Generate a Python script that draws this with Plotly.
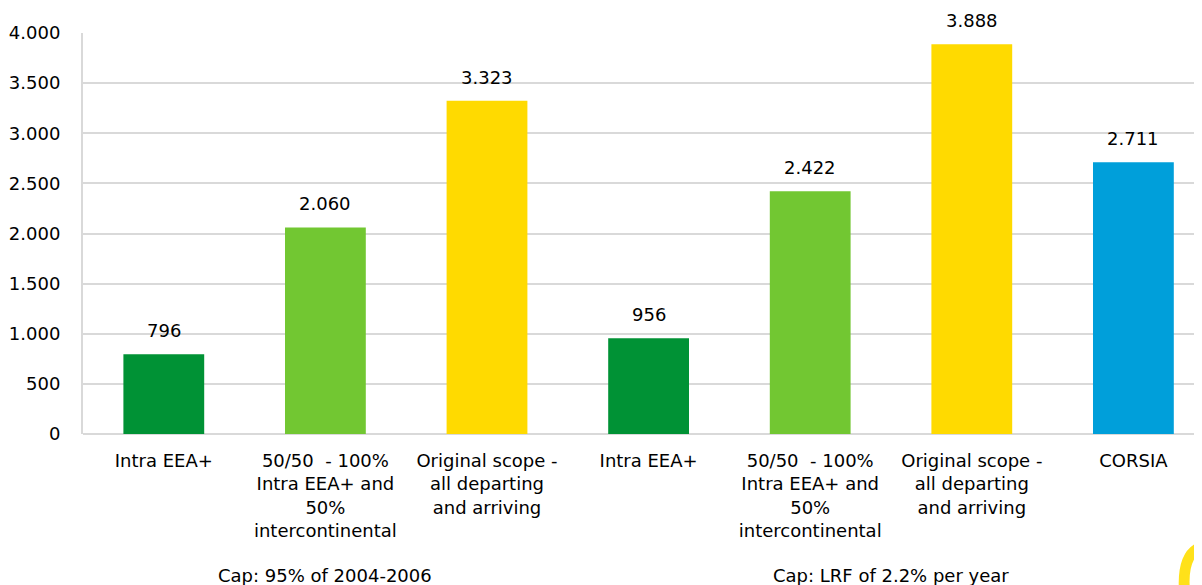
import plotly.graph_objects as go

labels = ["Intra EEA+",
          "50/50  - 100%<br>Intra EEA+ and<br>50%<br>intercontinental",
          "Original scope -<br>all departing<br>and arriving",
          "Intra EEA+",
          "50/50  - 100%<br>Intra EEA+ and<br>50%<br>intercontinental",
          "Original scope -<br>all departing<br>and arriving",
          "CORSIA"]
values = [796, 2060, 3323, 956, 2422, 3888, 2711]
colors = ["#009235", "#72c732", "#ffda00", "#009235", "#72c732", "#ffda00", "#009fda"]
groups = ["Cap: 95% of 2004-2006", "Cap: LRF of 2.2% per year"]
group_pos = [1, 4.5]

xs = list(range(len(values)))
font = "DejaVu Sans"

L, T, B, W, H = 75, 25, 159, 1202, 585
pw, ph = W - L, H - T - B


def px(sx, sy):
    # screen pixel -> paper coords (page has an 8px body margin)
    fx, fy = sx - 8, sy - 8
    return (fx - L) / pw, (H - B - fy) / ph


fig = go.Figure()
fig.add_trace(go.Bar(x=xs, y=values, marker_color=colors, width=0.5,
                     marker_line_width=0, hoverinfo="skip"))

# value labels above the bars
for x, v in zip(xs, values):
    fig.add_annotation(x=x, y=v, text=f"{v:,}".replace(",", "."),
                       showarrow=False, yanchor="bottom", yshift=11,
                       font=dict(family=font, size=18, color="#000000"))

for g, p in zip(groups, group_pos):
    fig.add_annotation(x=p, y=-0.352, xref="x", yref="paper", text=g,
                       showarrow=False, yanchor="middle",
                       font=dict(family=font, size=18, color="#000000"))

# little yellow logo crescent in the bottom right corner
pts = [px(1202, 541), px(1176, 548), px(1179, 592), px(1190, 592),
       px(1187, 560), px(1202, 551)]
path = "M {:.4f},{:.4f} Q {:.4f},{:.4f} {:.4f},{:.4f} L {:.4f},{:.4f} Q {:.4f},{:.4f} {:.4f},{:.4f} Z".format(
    *[c for p in pts for c in p])
fig.add_shape(type="path", path=path, xref="paper", yref="paper",
              fillcolor="#ffe11a", line_width=0, layer="above")

fig.update_layout(
    width=W, height=H,
    margin=dict(l=L, r=0, t=T, b=B),
    paper_bgcolor="white", plot_bgcolor="white",
    separators=",.",
    showlegend=False,
    font=dict(family=font, size=18, color="#000000"),
    bargap=0.5,
)
fig.update_xaxes(range=[-0.5, 6.474], tickvals=xs, ticktext=labels,
                 showgrid=False, showline=False, zeroline=False,
                 ticks="", ticklabelstandoff=14, tickfont=dict(size=18))
fig.update_yaxes(range=[0, 4000], dtick=500, tickformat=",d",
                 showgrid=True, gridcolor="#d9d9d9", gridwidth=1.5,
                 showline=True, linecolor="#d9d9d9", linewidth=2,
                 zeroline=True, zerolinecolor="#d9d9d9", zerolinewidth=2,
                 ticks="", ticklen=0, ticklabelstandoff=17,
                 tickfont=dict(size=18))

fig.write_html("out.html")
